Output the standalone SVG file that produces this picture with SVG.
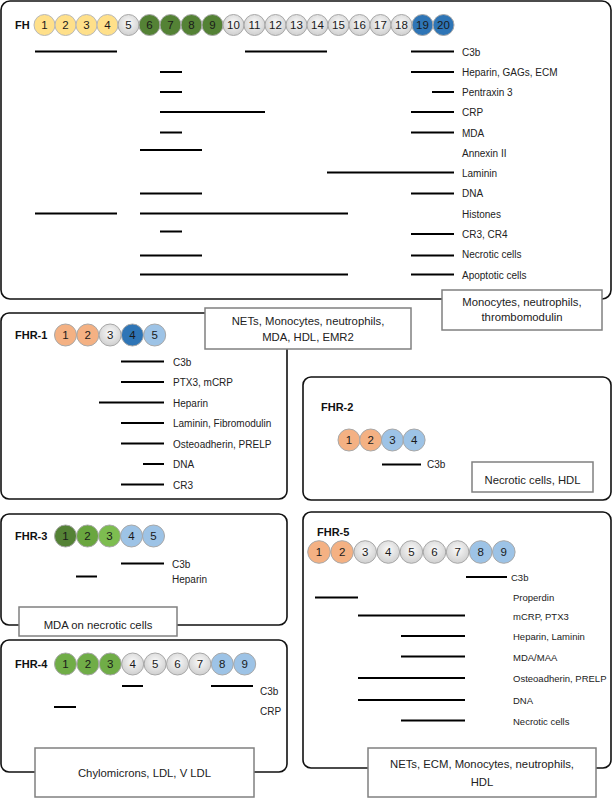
<svg xmlns="http://www.w3.org/2000/svg" width="614" height="800" viewBox="0 0 614 800">
<defs>
<radialGradient id="gr" cx="50%" cy="40%" r="60%"><stop offset="0" stop-color="#fafafa"/><stop offset="1" stop-color="#cfcfcf"/></radialGradient>
<style>
.box{fill:#fff;stroke:#111;stroke-width:1.6}
.sub{fill:#fff;stroke:#808080;stroke-width:1.5}
.ln{stroke:#000;stroke-width:2}
.t{font-family:"Liberation Sans",Arial,sans-serif;font-size:10px;fill:#222}
.t5{font-family:"Liberation Sans",Arial,sans-serif;font-size:9.5px;fill:#222}
.tb{font-family:"Liberation Sans",Arial,sans-serif;font-size:11.3px;fill:#222;text-anchor:middle}
.h{font-family:"Liberation Sans",Arial,sans-serif;font-size:11px;font-weight:bold;fill:#111}
.n{font-family:"Liberation Sans",Arial,sans-serif;font-size:11.5px;fill:#1a1a1a;text-anchor:middle}
.y{fill:#ffe08a;stroke:#b8b8b8}
.g{fill:url(#gr);stroke:#a8a8a8}
.dg{fill:#548235;stroke:#a8a8a8}
.mg{fill:#6aa63f;stroke:#a8a8a8}
.lg{fill:#7dbd50;stroke:#a8a8a8}
.bg{fill:#70ad47;stroke:#a8a8a8}
.db{fill:#2e75b6;stroke:#a8a8a8}
.lb{fill:#9dc3e6;stroke:#a8a8a8}
.o{fill:#f4b183;stroke:#a8a8a8}
</style>
</defs>

<g id="FH">
<rect class="box" x="1" y="1" width="610" height="298" rx="9"/>
<text class="h" x="15" y="29">FH</text>
<g>
<circle class="y" cx="44.5" cy="25" r="10.5"/><text class="n" x="44.5" y="29">1</text>
<circle class="y" cx="65.5" cy="25" r="10.5"/><text class="n" x="65.5" y="29">2</text>
<circle class="y" cx="86.5" cy="25" r="10.5"/><text class="n" x="86.5" y="29">3</text>
<circle class="y" cx="107.5" cy="25" r="10.5"/><text class="n" x="107.5" y="29">4</text>
<circle class="g" cx="128.5" cy="25" r="10.5"/><text class="n" x="128.5" y="29">5</text>
<circle class="dg" cx="149.5" cy="25" r="10.5"/><text class="n" x="149.5" y="29">6</text>
<circle class="dg" cx="170.5" cy="25" r="10.5"/><text class="n" x="170.5" y="29">7</text>
<circle class="dg" cx="191.5" cy="25" r="10.5"/><text class="n" x="191.5" y="29">8</text>
<circle class="dg" cx="212.5" cy="25" r="10.5"/><text class="n" x="212.5" y="29">9</text>
<circle class="g" cx="233.5" cy="25" r="10.5"/><text class="n" x="233.5" y="29">10</text>
<circle class="g" cx="254.5" cy="25" r="10.5"/><text class="n" x="254.5" y="29">11</text>
<circle class="g" cx="275.5" cy="25" r="10.5"/><text class="n" x="275.5" y="29">12</text>
<circle class="g" cx="296.5" cy="25" r="10.5"/><text class="n" x="296.5" y="29">13</text>
<circle class="g" cx="317.5" cy="25" r="10.5"/><text class="n" x="317.5" y="29">14</text>
<circle class="g" cx="338.5" cy="25" r="10.5"/><text class="n" x="338.5" y="29">15</text>
<circle class="g" cx="359.5" cy="25" r="10.5"/><text class="n" x="359.5" y="29">16</text>
<circle class="g" cx="380.5" cy="25" r="10.5"/><text class="n" x="380.5" y="29">17</text>
<circle class="g" cx="401.5" cy="25" r="10.5"/><text class="n" x="401.5" y="29">18</text>
<circle class="db" cx="422.5" cy="25" r="10.5"/><text class="n" x="422.5" y="29">19</text>
<circle class="db" cx="443.5" cy="25" r="10.5"/><text class="n" x="443.5" y="29">20</text>
</g>
<g>
<text class="t" x="462" y="55.5">C3b</text>
<text class="t" x="462" y="75.5">Heparin, GAGs, ECM</text>
<text class="t" x="462" y="96">Pentraxin 3</text>
<text class="t" x="462" y="116">CRP</text>
<text class="t" x="462" y="136.5">MDA</text>
<text class="t" x="462" y="156.5">Annexin II</text>
<text class="t" x="462" y="177">Laminin</text>
<text class="t" x="462" y="197">DNA</text>
<text class="t" x="462" y="217.5">Histones</text>
<text class="t" x="462" y="238">CR3, CR4</text>
<text class="t" x="462" y="258">Necrotic cells</text>
<text class="t" x="462" y="278.5">Apoptotic cells</text>
</g>
</g>

<g id="FH-cells">
<rect class="sub" x="442" y="290" width="160" height="40"/>
<text class="tb" x="522" y="306">Monocytes, neutrophils,</text>
<text class="tb" x="522" y="321">thrombomodulin</text>
</g>

<g id="FHR-1">
<rect class="box" x="1" y="313" width="286" height="186" rx="8"/>
<text class="h" x="15" y="339">FHR-1</text>
<circle class="o" cx="65.5" cy="335" r="11"/><text class="n" x="65.5" y="339">1</text>
<circle class="o" cx="87.8" cy="335" r="11"/><text class="n" x="87.8" y="339">2</text>
<circle class="g" cx="110.1" cy="335" r="11"/><text class="n" x="110.1" y="339">3</text>
<circle class="db" cx="132.4" cy="335" r="11"/><text class="n" x="132.4" y="339">4</text>
<circle class="lb" cx="154.7" cy="335" r="11"/><text class="n" x="154.7" y="339">5</text>
<text class="t" x="173" y="365.5">C3b</text>
<text class="t" x="173" y="386">PTX3, mCRP</text>
<text class="t" x="173" y="406.5">Heparin</text>
<text class="t" x="173" y="427">Laminin, Fibromodulin</text>
<text class="t" x="173" y="447.5">Osteoadherin, PRELP</text>
<text class="t" x="173" y="468">DNA</text>
<text class="t" x="173" y="488.5">CR3</text>
</g>

<g id="FHR-1-cells">
<rect class="sub" x="205" y="308" width="206" height="41"/>
<text class="tb" x="308" y="325">NETs, Monocytes, neutrophils,</text>
<text class="tb" x="308" y="341">MDA, HDL, EMR2</text>
</g>

<g id="FHR-2">
<rect class="box" x="303" y="377" width="308" height="123" rx="8"/>
<text class="h" x="321" y="411">FHR-2</text>
<circle class="o" cx="349" cy="440" r="11"/><text class="n" x="349" y="444">1</text>
<circle class="o" cx="370.7" cy="440" r="11"/><text class="n" x="370.7" y="444">2</text>
<circle class="lb" cx="392.4" cy="440" r="11"/><text class="n" x="392.4" y="444">3</text>
<circle class="lb" cx="414.1" cy="440" r="11"/><text class="n" x="414.1" y="444">4</text>
<text class="t" x="427" y="468">C3b</text>
</g>

<g id="FHR-2-cells">
<rect class="sub" x="472" y="462" width="121" height="30"/>
<text class="tb" x="532.5" y="484">Necrotic cells, HDL</text>
</g>

<g id="FHR-3">
<rect class="box" x="1" y="514" width="286" height="111" rx="8"/>
<text class="h" x="15" y="540">FHR-3</text>
<circle class="dg" cx="65.5" cy="536" r="11"/><text class="n" x="65.5" y="540">1</text>
<circle class="mg" cx="87.5" cy="536" r="11"/><text class="n" x="87.5" y="540">2</text>
<circle class="lg" cx="109.5" cy="536" r="11"/><text class="n" x="109.5" y="540">3</text>
<circle class="lb" cx="131.5" cy="536" r="11"/><text class="n" x="131.5" y="540">4</text>
<circle class="lb" cx="153.5" cy="536" r="11"/><text class="n" x="153.5" y="540">5</text>
<text class="t" x="172" y="568">C3b</text>
<text class="t" x="172" y="582.5">Heparin</text>
</g>

<g id="FHR-3-cells">
<rect class="sub" x="19" y="607" width="158" height="29"/>
<text class="tb" x="98" y="629">MDA on necrotic cells</text>
</g>

<g id="FHR-4">
<rect class="box" x="1" y="640" width="286" height="132" rx="8"/>
<text class="h" x="15" y="668">FHR-4</text>
<circle class="bg" cx="65.5" cy="664" r="11"/><text class="n" x="65.5" y="668">1</text>
<circle class="bg" cx="87.9" cy="664" r="11"/><text class="n" x="87.9" y="668">2</text>
<circle class="bg" cx="110.3" cy="664" r="11"/><text class="n" x="110.3" y="668">3</text>
<circle class="g" cx="132.7" cy="664" r="11"/><text class="n" x="132.7" y="668">4</text>
<circle class="g" cx="155.1" cy="664" r="11"/><text class="n" x="155.1" y="668">5</text>
<circle class="g" cx="177.5" cy="664" r="11"/><text class="n" x="177.5" y="668">6</text>
<circle class="g" cx="199.9" cy="664" r="11"/><text class="n" x="199.9" y="668">7</text>
<circle class="lb" cx="222.3" cy="664" r="11"/><text class="n" x="222.3" y="668">8</text>
<circle class="lb" cx="244.7" cy="664" r="11"/><text class="n" x="244.7" y="668">9</text>
<text class="t" x="260" y="694.5">C3b</text>
<text class="t" x="260" y="714.5">CRP</text>
</g>

<g id="FHR-4-cells">
<rect class="sub" x="35" y="748" width="219" height="49"/>
<text class="tb" x="144.5" y="777">Chylomicrons, LDL, V LDL</text>
</g>

<g id="FHR-5">
<rect class="box" x="303" y="512" width="308" height="256" rx="8"/>
<text class="h" x="317" y="536">FHR-5</text>
<circle class="o" cx="319" cy="552" r="11.3"/><text class="n" x="319" y="556">1</text>
<circle class="o" cx="342.1" cy="552" r="11.3"/><text class="n" x="342.1" y="556">2</text>
<circle class="g" cx="365.2" cy="552" r="11.3"/><text class="n" x="365.2" y="556">3</text>
<circle class="g" cx="388.3" cy="552" r="11.3"/><text class="n" x="388.3" y="556">4</text>
<circle class="g" cx="411.4" cy="552" r="11.3"/><text class="n" x="411.4" y="556">5</text>
<circle class="g" cx="434.5" cy="552" r="11.3"/><text class="n" x="434.5" y="556">6</text>
<circle class="g" cx="457.6" cy="552" r="11.3"/><text class="n" x="457.6" y="556">7</text>
<circle class="lb" cx="480.7" cy="552" r="11.3"/><text class="n" x="480.7" y="556">8</text>
<circle class="lb" cx="503.8" cy="552" r="11.3"/><text class="n" x="503.8" y="556">9</text>
<text class="t5" x="511" y="580.5">C3b</text>
<text class="t5" x="513" y="601">Properdin</text>
<text class="t5" x="513" y="619.5">mCRP, PTX3</text>
<text class="t5" x="513" y="640">Heparin, Laminin</text>
<text class="t5" x="513" y="660.5">MDA/MAA</text>
<text class="t5" x="513" y="682">Osteoadherin, PRELP</text>
<text class="t5" x="513" y="703.5">DNA</text>
<text class="t5" x="513" y="724.5">Necrotic cells</text>
</g>

<g id="FHR-5-cells">
<rect class="sub" x="368" y="748" width="228" height="49"/>
<text class="tb" x="482" y="768">NETs, ECM, Monocytes, neutrophils,</text>
<text class="tb" x="482" y="786">HDL</text>
</g>

<g id="connectors">
<line class="ln" x1="35" y1="51.5" x2="117" y2="51.5"/>
<line class="ln" x1="245" y1="51.5" x2="327" y2="51.5"/>
<line class="ln" x1="411" y1="51.5" x2="454" y2="51.5"/>
<line class="ln" x1="160" y1="72" x2="182" y2="72"/>
<line class="ln" x1="411" y1="72" x2="454" y2="72"/>
<line class="ln" x1="160" y1="92" x2="182" y2="92"/>
<line class="ln" x1="432" y1="92" x2="454" y2="92"/>
<line class="ln" x1="160" y1="112" x2="265" y2="112"/>
<line class="ln" x1="411" y1="112" x2="454" y2="112"/>
<line class="ln" x1="160" y1="132.5" x2="182" y2="132.5"/>
<line class="ln" x1="411" y1="132.5" x2="454" y2="132.5"/>
<line class="ln" x1="140" y1="150" x2="202" y2="150"/>
<line class="ln" x1="327" y1="172.5" x2="454" y2="172.5"/>
<line class="ln" x1="140" y1="193.5" x2="202" y2="193.5"/>
<line class="ln" x1="411" y1="193.5" x2="454" y2="193.5"/>
<line class="ln" x1="35" y1="213.5" x2="117" y2="213.5"/>
<line class="ln" x1="140" y1="213.5" x2="348" y2="213.5"/>
<line class="ln" x1="160" y1="231.5" x2="182" y2="231.5"/>
<line class="ln" x1="411" y1="234" x2="454" y2="234"/>
<line class="ln" x1="140" y1="255.5" x2="202" y2="255.5"/>
<line class="ln" x1="411" y1="255.5" x2="454" y2="255.5"/>
<line class="ln" x1="140" y1="274.5" x2="348" y2="274.5"/>
<line class="ln" x1="411" y1="274.5" x2="454" y2="274.5"/>

<line class="ln" x1="121" y1="361.5" x2="164" y2="361.5"/>
<line class="ln" x1="121" y1="382" x2="164" y2="382"/>
<line class="ln" x1="99" y1="402.5" x2="164" y2="402.5"/>
<line class="ln" x1="121" y1="423" x2="164" y2="423"/>
<line class="ln" x1="121" y1="443.5" x2="164" y2="443.5"/>
<line class="ln" x1="143" y1="464" x2="164" y2="464"/>
<line class="ln" x1="121" y1="484.5" x2="164" y2="484.5"/>

<line class="ln" x1="382" y1="464.5" x2="421" y2="464.5"/>

<line class="ln" x1="121" y1="563.5" x2="164" y2="563.5"/>
<line class="ln" x1="76" y1="576.5" x2="97" y2="576.5"/>

<line class="ln" x1="122" y1="686" x2="143" y2="686"/>
<line class="ln" x1="211" y1="686" x2="253" y2="686"/>
<line class="ln" x1="54" y1="707" x2="76" y2="707"/>

<line class="ln" x1="466" y1="577" x2="507" y2="577"/>
<line class="ln" x1="315" y1="597.5" x2="358" y2="597.5"/>
<line class="ln" x1="358" y1="615.5" x2="465" y2="615.5"/>
<line class="ln" x1="401" y1="636" x2="465" y2="636"/>
<line class="ln" x1="401" y1="656.5" x2="465" y2="656.5"/>
<line class="ln" x1="358" y1="678" x2="465" y2="678"/>
<line class="ln" x1="358" y1="700" x2="465" y2="700"/>
<line class="ln" x1="401" y1="720.5" x2="465" y2="720.5"/>
</g>
</svg>
